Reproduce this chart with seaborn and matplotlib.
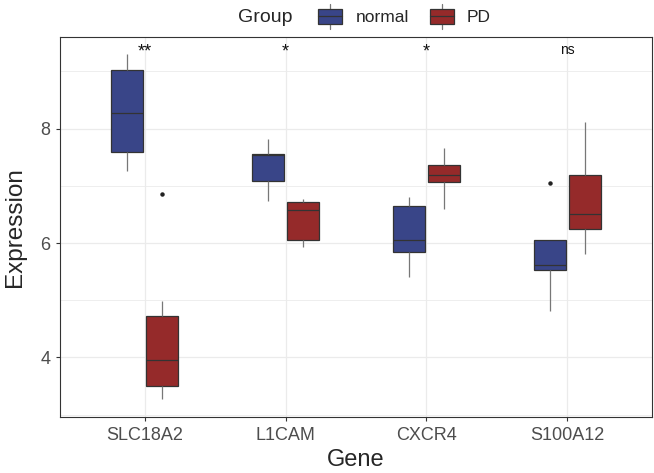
import numpy as np
import pandas as pd
import seaborn as sns
import matplotlib.pyplot as plt
from matplotlib.patches import Patch, Rectangle
from matplotlib.lines import Line2D
from matplotlib.legend_handler import HandlerBase

genes = ["SLC18A2", "L1CAM", "CXCR4", "S100A12"]
groups = ["normal", "PD"]
signif = ["**", "*", "*", "ns"]

# expression values (9 samples per group)
slc18a2_normal = [7.25, 7.42, 7.59, 7.95, 8.28, 8.70, 9.03, 9.15, 9.31]
slc18a2_pd = [3.27, 3.40, 3.51, 3.75, 3.96, 4.40, 4.73, 4.98, 6.86]
l1cam_normal = [6.74, 6.90, 7.09, 7.30, 7.53, 7.54, 7.55, 7.70, 7.81]
l1cam_pd = [5.93, 6.00, 6.05, 6.35, 6.57, 6.65, 6.72, 6.75, 6.77]
cxcr4_normal = [5.41, 5.70, 5.85, 5.95, 6.05, 6.40, 6.65, 6.75, 6.81]
cxcr4_pd = [6.60, 6.90, 7.06, 7.12, 7.19, 7.28, 7.37, 7.55, 7.66]
s100a12_normal = [4.82, 5.20, 5.53, 5.58, 5.61, 5.85, 6.05, 6.05, 7.05]
s100a12_pd = [5.80, 6.10, 6.24, 6.40, 6.50, 6.90, 7.19, 7.70, 8.12]

colors = {"normal": "#394588", "PD": "#952A2A"}

series = {
    ("SLC18A2", "normal"): slc18a2_normal, ("SLC18A2", "PD"): slc18a2_pd,
    ("L1CAM", "normal"): l1cam_normal, ("L1CAM", "PD"): l1cam_pd,
    ("CXCR4", "normal"): cxcr4_normal, ("CXCR4", "PD"): cxcr4_pd,
    ("S100A12", "normal"): s100a12_normal, ("S100A12", "PD"): s100a12_pd,
}
rows = []
for (g, grp), vals in series.items():
    for v in vals:
        rows.append({"Gene": g, "Group": grp, "Expression": v})
df = pd.DataFrame(rows)


class BoxKey(HandlerBase):
    # ggplot-style key: box with median line and whisker through it
    def create_artists(self, legend, orig, xd, yd, w, h, fs, trans):
        x0, y0 = -xd, -yd
        wl = Line2D([x0 + w / 2] * 2, [y0 - 0.35 * h, y0 + 1.35 * h], color="#777777", lw=0.9, transform=trans)
        box = Rectangle((x0, y0), w, h, facecolor=orig.get_facecolor(), edgecolor="#333333", lw=0.9, transform=trans)
        med = Line2D([x0, x0 + w], [y0 + h / 2] * 2, color="#333333", lw=0.9, transform=trans)
        return [wl, box, med]


sns.set_style("white")
plt.rcParams["font.family"] = ["Liberation Sans", "DejaVu Sans"]

fig = plt.figure(figsize=(6.54, 4.73), dpi=100)
ax = fig.add_axes([0.0917, 0.1184, 0.9053, 0.8034])

sns.boxplot(data=df, x="Gene", y="Expression", hue="Group", order=genes, hue_order=groups,
            palette=colors, saturation=1, width=0.5, gap=0.1, linecolor="#333333", linewidth=0.9,
            showcaps=False, whis=1.5, legend=False, ax=ax,
            whiskerprops=dict(color="#777777"),
            flierprops=dict(marker="o", markersize=2.2, markerfacecolor="#222222", markeredgecolor="#222222"))

ax.set_xlim(-0.6, 3.6)
ax.set_ylim(2.96, 9.60)
ax.set_yticks([4, 6, 8])
ax.set_yticks([3, 5, 7, 9], minor=True)
ax.grid(True, which="major", color="#EBEBEB", lw=0.9)
ax.grid(True, which="minor", axis="y", color="#EBEBEB", lw=0.6)
ax.set_axisbelow(True)
for s in ax.spines.values():
    s.set_color("#333333")
    s.set_linewidth(0.8)
ax.tick_params(axis="both", which="major", length=3, width=0.8, color="#333333",
               labelcolor="#4D4D4D", labelsize=13, pad=4, left=True, bottom=True)
ax.tick_params(axis="y", which="minor", length=0)

ax.set_xlabel("Gene", fontsize=17, labelpad=4)
ax.set_ylabel("Expression", fontsize=17.5)
ax.yaxis.set_label_coords(-0.057, 0.5)

for i, lab in enumerate(signif):
    if lab == "ns":
        ax.text(i, 9.38, lab, ha="center", va="center", fontsize=10, color="#111111")
    else:
        ax.text(i, 9.33, lab, ha="center", va="center", fontsize=13, color="#111111")

handles = [Patch(facecolor=colors[g]) for g in groups]
fig.legend(handles, groups, loc="center left", bbox_to_anchor=(318 / 654, 1 - 17 / 473), ncol=2,
           frameon=False, handler_map={Patch: BoxKey()}, fontsize=12.5, handlelength=1.4,
           handleheight=0.95, handletextpad=0.75, columnspacing=1.2, borderpad=0, borderaxespad=0)
fig.text(238 / 654, 1 - 17 / 473, "Group", ha="left", va="center", fontsize=14)

fig.savefig("out.png", dpi=100)
